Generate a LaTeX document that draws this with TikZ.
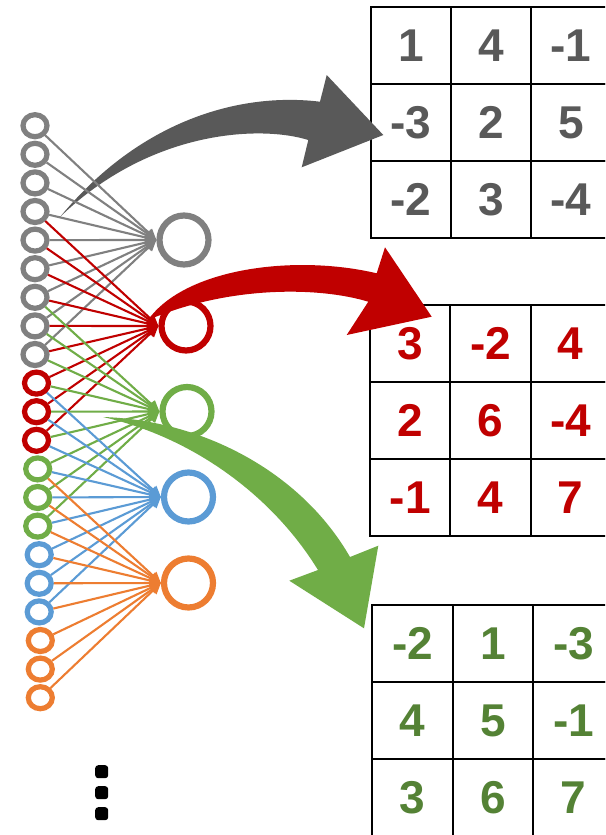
\documentclass[tikz,border=0pt]{standalone}
\usepackage{fontspec}
\setmainfont{Liberation Sans}
\usetikzlibrary{shapes.geometric,arrows.meta}
\definecolor{cgray}{HTML}{808080}
\definecolor{cdgray}{HTML}{595959}
\definecolor{cred}{HTML}{C00000}
\definecolor{cgreen}{HTML}{70AD47}
\definecolor{cdgreen}{HTML}{548235}
\definecolor{cblue}{HTML}{5B9BD5}
\definecolor{corange}{HTML}{ED7D31}
\begin{document}
\begin{tikzpicture}[x=1pt,y=-1pt,
  inneuron/.style={ellipse, draw, line width=5.2pt, minimum width=24pt, minimum height=22pt, inner sep=0pt},
  outneuron/.style={circle, draw, line width=6.2pt, minimum size=49pt, inner sep=0pt},
  conn/.style={line width=2.1pt, -{Triangle[length=11pt,width=10pt]}},
  cell/.style={rectangle, draw=black, line width=1.8pt, outer sep=0pt, inner sep=0pt, anchor=north west,
    minimum height=77pt, font=\bfseries\fontsize{46}{46}\selectfont},
  dotbox/.style={fill=black, rounded corners=3pt}]
\clip (0,0) rectangle (605,835);
\fill[white] (0,0) rectangle (605,835);

% tables
\foreach \v [count=\n from 0] in {1,4,-1,-3,2,5,-2,3,-4} {
  \pgfmathtruncatemacro\r{\n/3}
  \pgfmathtruncatemacro\c{mod(\n,3)}
  \node[cell, text=cdgray, minimum width=80pt] (ga-\r-\c) at (371+80*\c, 7+77*\r) {\v};
}
\foreach \v [count=\n from 0] in {3,-2,4,2,6,-4,-1,4,7} {
  \pgfmathtruncatemacro\r{\n/3}
  \pgfmathtruncatemacro\c{mod(\n,3)}
  \node[cell, text=cred, minimum width=80.3pt] (rb-\r-\c) at (370+80.3*\c, 305+77*\r) {\v};
}
\foreach \v [count=\n from 0] in {-2,1,-3,4,5,-1,3,6,7} {
  \pgfmathtruncatemacro\r{\n/3}
  \pgfmathtruncatemacro\c{mod(\n,3)}
  \node[cell, text=cdgreen, minimum width=80.5pt] (gc-\r-\c) at (372.3+80.5*\c, 605+77*\r) {\v};
}

% big curved arrows
\fill[cdgray] (60,217) .. controls (140,120) and (240,92) .. (320,101.7)
  -- (326.7,75) -- (383.3,135) -- (301.7,167.3) -- (308.3,140)
  .. controls (260,125) and (150,130) .. (60,217) -- cycle;
\fill[cred] (148,320) .. controls (185,268) and (295,254) .. (376.7,273.3)
  -- (385,247.3) -- (431.7,316.7) -- (346.7,335) -- (368.3,301.7)
  .. controls (320,287) and (230,285) .. (148,320) -- cycle;
\fill[cgreen] (103,417) .. controls (200,420) and (300,470) .. (350,557)
  -- (378.3,545.7) -- (364,628.3) -- (289.3,580.7) -- (318,570)
  .. controls (272,495) and (192,437) .. (103,417) -- cycle;

% input neurons
\foreach \i/\col/\x in {0/cgray/35,1/cgray/35,2/cgray/35,3/cgray/35,4/cgray/35,5/cgray/35,6/cgray/35,7/cgray/35,8/cgray/35,
  9/cred/36.5,10/cred/36.5,11/cred/36.5,12/cgreen/37.7,13/cgreen/37.7,14/cgreen/37.7,
  15/cblue/39.2,16/cblue/39.2,17/cblue/39.2,18/corange/40.3,19/corange/40.3,20/corange/40.3} {
  \node[inneuron, draw=\col] (i\i) at (\x, 125.7+28.6*\i) {};
}

% output neurons
\node[outneuron, draw=cgray] (o0) at (184,240) {};
\node[outneuron, draw=cred] (o1) at (186,326) {};
\node[outneuron, draw=cgreen] (o2) at (187,411.5) {};
\node[outneuron, draw=cblue] (o3) at (188.5,497) {};
\node[outneuron, draw=corange] (o4) at (188.5,583) {};

% connections
\foreach \k/\col in {0/cgray,1/cred,2/cgreen,3/cblue,4/corange} {
  \foreach \j in {0,...,8} {
    \pgfmathtruncatemacro\ii{3*\k+\j}
    \draw[conn, draw=\col, fill=\col] (i\ii) -- (o\k.west);
  }
}

% vertical ellipsis
\fill[dotbox] (95.2,765.2) rectangle (108.2,778.2);
\fill[dotbox] (95.2,786.2) rectangle (108.2,799.2);
\fill[dotbox] (95.2,807.2) rectangle (108.2,820.2);
\end{tikzpicture}
\end{document}
